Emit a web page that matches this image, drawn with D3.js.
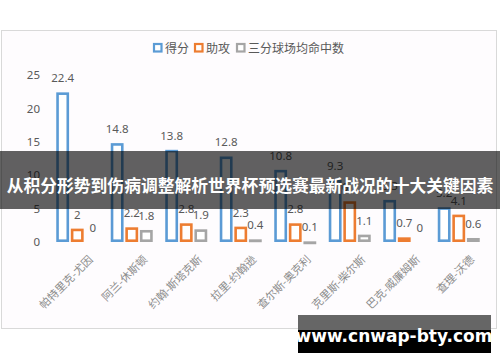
<!DOCTYPE html>
<html>
<head>
<meta charset="utf-8">
<script src="https://cdn.jsdelivr.net/npm/d3@7"></script>
<style>
  body { margin: 0; background: #fff; }
  svg { display: block; font-family: "Noto Sans CJK SC", "Noto Sans", sans-serif; }
</style>
</head>
<body>
<div id="chart"></div>
<script>
// data
var players = ["帕特里克-尤因", "阿兰-休斯顿", "约翰-斯塔克斯", "拉里-约翰逊",
  "查尔斯-奥克利", "克里斯-柴尔斯", "巴克-威廉姆斯", "查理-沃德"];
var seriesNames = ["得分", "助攻", "三分球场均命中数"];
var points = [22.4, 14.8, 13.8, 12.8, 10.8, 9.3, 6.3, 5.2];
var assists = [2, 2.2, 2.8, 2.3, 2.8, 6.1, 0.7, 4.1];
var threes = [0, 1.8, 1.9, 0.4, 0.1, 1.1, 0, 0.6];
var yTicks = [0, 5, 10, 15, 20, 25];
var colors = ["#5b9bd5", "#ed7d31", "#a5a5a5"];
var title = "从积分形势到伤病调整解析世界杯预选赛最新战况的十大关键因素";
var watermark = "www.cnwap-bty.com";

var W = 500, H = 362;
var svg = d3.select("#chart").append("svg")
  .attr("width", W)
  .attr("height", H);

// chart frame
svg.append("rect")
  .attr("x", 1.5).attr("y", 30.5)
  .attr("width", 495).attr("height", 298)
  .attr("fill", "#fefcfe")
  .attr("stroke", "#d9d9d9");

var x = d3.scaleBand()
  .domain(players)
  .range([50, 486]);

var xs = d3.scaleBand()
  .domain(seriesNames)
  .range([0, 42])
  .paddingInner(0.12);

var y = d3.scaleLinear()
  .domain([0, 25])
  .range([242, 75]);

// y tick labels (no axis line)
var yAxis = d3.axisLeft(y).tickValues(yTicks).tickSize(0).tickPadding(0);
var gy = svg.append("g")
  .attr("transform", "translate(40,0)")
  .call(yAxis);
gy.select(".domain").remove();
gy.selectAll("text")
  .attr("fill", "#595959")
  .style("font-size", "11.5px")
  .style("font-family", "'Noto Sans', sans-serif");

// bars
var rows = players.map(function (p, i) {
  return { name: p, vals: [points[i], assists[i], threes[i]] };
});

var sw = 2.6;
var groups = svg.selectAll(".grp")
  .data(rows)
  .enter().append("g")
  .attr("class", "grp")
  .attr("transform", function (d) {
    return "translate(" + (x(d.name) + x.bandwidth() / 2 - 21) + ",0)";
  });

groups.selectAll("rect")
  .data(function (d) {
    return d.vals.map(function (v, k) { return { k: k, v: v }; });
  })
  .enter().append("rect")
  .filter(function (d) { return d.v > 0; })
  .attr("x", function (d) { return xs(seriesNames[d.k]) + sw / 2; })
  .attr("y", function (d) { return y(d.v) + sw / 2; })
  .attr("width", xs.bandwidth() - sw)
  .attr("height", function (d) { return Math.max(0.3, y(0) - y(d.v) - sw); })
  .attr("fill", "#fff")
  .attr("stroke", function (d) { return colors[d.k]; })
  .attr("stroke-width", sw);

groups.selectAll("text")
  .data(function (d) {
    return d.vals.map(function (v, k) { return { k: k, v: v }; });
  })
  .enter().append("text")
  .attr("x", function (d) { return xs(seriesNames[d.k]) + xs.bandwidth() / 2 + (d.v === 0 ? 1 : 0); })
  .attr("y", function (d) { return y(d.v) - 10; })
  .attr("text-anchor", "middle")
  .attr("fill", "#595959")
  .style("font-size", "11.5px")
  .style("font-family", "'Noto Sans', sans-serif")
  .text(function (d) { return d.v; });

// x labels rotated
svg.selectAll(".xl")
  .data(players)
  .enter().append("text")
  .attr("class", "xl")
  .attr("transform", function (d) {
    return "translate(" + (x(d) + x.bandwidth() / 2 + 10) + ",254) rotate(-45)";
  })
  .attr("text-anchor", "end")
  .attr("dy", "0.8em")
  .attr("fill", "#8c8c8c")
  .style("font-size", "11px")
  .text(function (d) { return d; });

// legend
var legX = [153, 194, 236];
var leg = svg.selectAll(".leg")
  .data(seriesNames)
  .enter().append("g")
  .attr("class", "leg")
  .attr("transform", function (d, i) { return "translate(" + legX[i] + ",43)"; });
leg.append("rect")
  .attr("x", 1).attr("y", 1)
  .attr("width", 7.5).attr("height", 7.5)
  .attr("fill", "#fff")
  .attr("stroke", function (d, i) { return colors[i]; })
  .attr("stroke-width", 2.2);
leg.append("text")
  .attr("x", 12).attr("y", 9.5)
  .attr("fill", "#595959")
  .style("font-size", "12px")
  .text(function (d) { return d; });

// title banner
svg.append("rect")
  .attr("x", 0).attr("y", 151)
  .attr("width", W).attr("height", 58)
  .attr("fill", "#000")
  .attr("fill-opacity", 0.62);
svg.append("text")
  .attr("x", W / 2).attr("y", 192)
  .attr("text-anchor", "middle")
  .attr("fill", "#fff")
  .style("font-size", "16.8px")
  .style("font-weight", "bold")
  .text(title);

// watermark
svg.append("rect")
  .attr("x", 298).attr("y", 315)
  .attr("width", 193).attr("height", 15)
  .attr("fill", "#666");
svg.append("rect")
  .attr("x", 298).attr("y", 330)
  .attr("width", 193).attr("height", 23)
  .attr("fill", "#000");
svg.append("text")
  .attr("x", 394).attr("y", 342)
  .attr("text-anchor", "middle")
  .attr("fill", "#fff")
  .style("font-size", "17px")
  .style("font-weight", "bold")
  .style("font-family", "'DejaVu Sans', sans-serif")
  .text(watermark);
</script>
</body>
</html>
